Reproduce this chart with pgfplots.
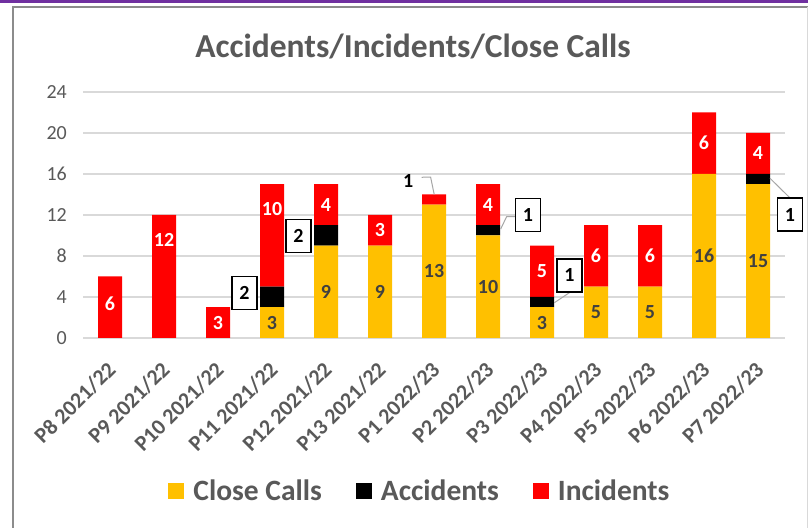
\documentclass[border=0pt]{standalone}
\usepackage{pgfplots}
\usepackage{pgfplotstable}
\pgfplotsset{compat=1.18}
\usepackage{fontspec}
\setmainfont{Carlito}
\definecolor{ccyellow}{RGB}{255,192,0}
\definecolor{incred}{RGB}{255,0,0}
\definecolor{txtgray}{RGB}{89,89,89}
\definecolor{lblgray}{RGB}{64,64,64}
\definecolor{gridgray}{RGB}{217,217,217}
\definecolor{framegray}{RGB}{140,140,140}
\definecolor{purp}{RGB}{112,48,160}
\definecolor{leader}{RGB}{166,166,166}

\pgfplotstableread{
x cc acc inc
0 0 0 6
1 0 0 12
2 0 0 3
3 3 2 10
4 9 2 4
5 9 0 3
6 13 0 1
7 10 1 4
8 3 1 5
9 5 0 6
10 5 0 6
11 16 0 6
12 15 1 4
}\datatable

\newcommand{\ccl}[3]{\node[font=\fontsize{20bp}{24bp}\selectfont\bfseries, text=lblgray] at (axis cs:#1,#2) {#3};}
\newcommand{\inl}[3]{\node[font=\fontsize{20bp}{24bp}\selectfont\bfseries, text=white] at (axis cs:#1,#2) {#3};}
\newcommand{\callout}[3]{\node[font=\fontsize{20bp}{24bp}\selectfont\bfseries, text=black, draw=black, line width=1.5bp, fill=white, minimum width=25bp, minimum height=33bp, inner sep=0pt] at (axis cs:#1,#2) {#3};}

\begin{document}
\begin{tikzpicture}
\useasboundingbox (0,0) rectangle (808bp,528bp);
\fill[white] (0,0) rectangle (808bp,528bp);
\fill[purp] (0,525bp) rectangle (808bp,528bp);
\draw[framegray, line width=1.5bp] (13bp,0) -- (13bp,521bp) -- (808bp,521bp);
\draw[gridgray, line width=1bp] (807bp,0) -- (807bp,521bp);
\node[font=\fontsize{33.5bp}{40bp}\selectfont\bfseries, text=txtgray] at (413bp,481bp) {Accidents/Incidents/Close Calls};
\begin{axis}[
  at={(83bp,190bp)}, anchor=south west,
  scale only axis, width=702bp, height=246bp,
  ybar stacked, bar width=24bp,
  xmin=-0.5, xmax=12.5, ymin=0, ymax=24,
  ytick={0,4,...,24},
  xtick={0,...,12},
  xticklabels={P8 2021/22, P9 2021/22, P10 2021/22, P11 2021/22, P12 2021/22, P13 2021/22, P1 2022/23, P2 2022/23, P3 2022/23, P4 2022/23, P5 2022/23, P6 2022/23, P7 2022/23},
  axis line style={draw=none},
  ymajorgrids, grid style={gridgray, line width=1.3bp},
  major tick length=0pt,
  /pgf/number format/assume math mode=true,
  yticklabel style={font=\fontsize{20bp}{24bp}\selectfont, text=txtgray, inner sep=0pt, xshift=-16bp},
  xticklabel style={font=\fontsize{22bp}{26bp}\selectfont\bfseries, text=txtgray, inner sep=0pt, xshift=-4bp, yshift=-22bp, rotate=45, anchor=north east},
  legend columns=3,
  legend style={at={(0.48,-0.622)}, anchor=center, draw=none, fill=none,
    font=\fontsize{29.5bp}{34bp}\selectfont\bfseries, text=txtgray,
    /tikz/every odd column/.append style={column sep=7bp},
    /tikz/every even column/.append style={column sep=32bp}},
  legend image code/.code={\fill[#1, draw=none] (0bp,-8bp) rectangle (16bp,8bp);},
]
\addplot[fill=ccyellow, draw=none] table[x=x, y=cc] {\datatable};
\addplot[fill=black, draw=none] table[x=x, y=acc] {\datatable};
\addplot[fill=incred, draw=none] table[x=x, y=inc] {\datatable};
\legend{Close Calls, Accidents, Incidents}
\end{axis}
\begin{axis}[
  at={(83bp,190bp)}, anchor=south west,
  scale only axis, width=702bp, height=246bp,
  xmin=-0.5, xmax=12.5, ymin=0, ymax=24,
  hide axis, clip=false,
]
% close calls labels
\ccl{3}{1.5}{3}
\ccl{4}{4.5}{9}
\ccl{5}{4.5}{9}
\ccl{6}{6.5}{13}
\ccl{7}{5}{10}
\ccl{8}{1.5}{3}
\ccl{9}{2.5}{5}
\ccl{10}{2.5}{5}
\ccl{11}{8}{16}
\ccl{12}{7.5}{15}
% incidents labels
\inl{0}{3.3}{6}
\inl{1}{9.6}{12}
\inl{2}{1.5}{3}
\inl{3}{12.6}{10}
\inl{4}{13}{4}
\inl{5}{10.5}{3}
\inl{7}{13}{4}
\inl{8}{6.5}{5}
\inl{9}{8}{6}
\inl{10}{8}{6}
\inl{11}{19}{6}
\inl{12}{18}{4}
% leader lines
\draw[leader, line width=1bp] (axis cs:5.772,15.68) -- (axis cs:5.937,15.7) -- (axis cs:6.004,14.0);
\draw[leader, line width=1bp] (axis cs:7.235,10.63) -- (axis cs:7.344,11.83) -- (axis cs:7.52,11.83);
\draw[leader, line width=1bp] (axis cs:8.228,3.44) -- (axis cs:8.519,4.46);
\draw[leader, line width=1bp] (axis cs:12.222,15.58) -- (axis cs:12.58,13.73);
% P1 incidents external label
\node[font=\fontsize{20bp}{24bp}\selectfont\bfseries, text=black] at (axis cs:5.52,15.3) {1};
% accident callouts
\callout{2.49}{4.39}{2}
\callout{3.49}{9.95}{2}
\callout{7.74}{12.0}{1}
\callout{8.51}{6.1}{1}
\callout{12.59}{12.03}{1}
\end{axis}
\end{tikzpicture}
\end{document}
